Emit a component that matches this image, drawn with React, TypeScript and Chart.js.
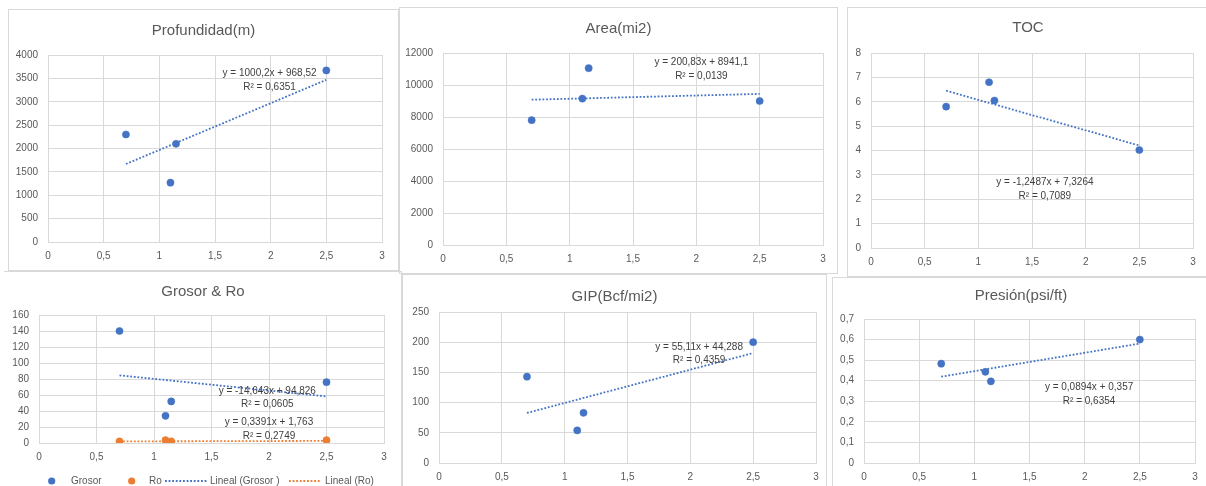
import React, { useEffect, useRef } from "react";
import { Chart, registerables } from "chart.js";
Chart.register(...registerables);

// ---------- data ----------
const xValues = [0.7, 1.1, 1.15, 2.5];
const xTickLabels = ["0", "0,5", "1", "1,5", "2", "2,5", "3"];

const profundidad = [2300, 1270, 2100, 3670];
const area = [7800, 9150, 11050, 9000];
const toc = [5.8, 6.8, 6.05, 4.02];
const grosor = [140, 34, 52, 76];
const ro = [2, 3.5, 2, 3.5];
const gip = [143, 54, 83, 200];
const presion = [0.483, 0.443, 0.397, 0.6];

// trendline [slope, intercept] as printed on the charts
const profundidadTrend = [1000.2, 968.52];
const areaTrend = [200.83, 8941.1];
const tocTrend = [-1.2487, 7.3264];
const grosorTrend = [-14.643, 94.826];
const roTrend = [0.3391, 1.763];
const gipTrend = [55.11, 44.288];
const presionTrend = [0.0894, 0.357];

const profundidadEq = ["y = 1000,2x + 968,52", "R² = 0,6351"];
const areaEq = ["y = 200,83x + 8941,1", "R² = 0,0139"];
const tocEq = ["y = -1,2487x + 7,3264", "R² = 0,7089"];
const grosorEq = ["y = -14,643x + 94,826", "R² = 0,0605"];
const roEq = ["y = 0,3391x + 1,763", "R² = 0,2749"];
const gipEq = ["y = 55,11x + 44,288", "R² = 0,4359"];
const presionEq = ["y = 0,0894x + 0,357", "R² = 0,6354"];

const profundidadYTicks = ["0", "500", "1000", "1500", "2000", "2500", "3000", "3500", "4000"];
const areaYTicks = ["0", "2000", "4000", "6000", "8000", "10000", "12000"];
const tocYTicks = ["0", "1", "2", "3", "4", "5", "6", "7", "8"];
const grosorYTicks = ["0", "20", "40", "60", "80", "100", "120", "140", "160"];
const gipYTicks = ["0", "50", "100", "150", "200", "250"];
const presionYTicks = ["0", "0,1", "0,2", "0,3", "0,4", "0,5", "0,6", "0,7"];

// ---------- style ----------
const BLUE = "#4472C4";
const ORANGE = "#ED7D31";
const GRID = "#d9d9d9";
const TICK = "#595959";
const FONT = "'Liberation Sans', Arial, sans-serif";

type Series = {
  name: string;
  values: number[];
  color: string;
  trend: number[];
  eq: string[];
  eqAt: [number, number];
};

type Panel = {
  title: string;
  box: { x: number; y: number; w: number; h: number };
  borders: string; // t r b l
  plot: { L: number; T: number; R: number; B: number };
  titleY: number;
  yMax: number;
  yStep: number;
  yTicks: string[];
  series: Series[];
  legend?: { y: number; items: { kind: "pt" | "ln"; s1: number; s2?: number; tx: number }[] };
};

const panels: Panel[] = [
  {
    title: "Profundidad(m)",
    box: { x: 8, y: 9, w: 391, h: 262 },
    borders: "1111",
    plot: { L: 48, T: 55, R: 382, B: 242 },
    titleY: 31,
    yMax: 4000,
    yStep: 500,
    yTicks: profundidadYTicks,
    series: [
      { name: "Profundidad", values: profundidad, color: BLUE, trend: profundidadTrend, eq: profundidadEq, eqAt: [1.99, 3609] },
    ],
  },
  {
    title: "Area(mi2)",
    box: { x: 399, y: 7, w: 439, h: 267 },
    borders: "1111",
    plot: { L: 443, T: 53, R: 823, B: 245 },
    titleY: 29,
    yMax: 12000,
    yStep: 2000,
    yTicks: areaYTicks,
    series: [{ name: "Area", values: area, color: BLUE, trend: areaTrend, eq: areaEq, eqAt: [2.04, 11400] }],
  },
  {
    title: "TOC",
    box: { x: 847, y: 7, w: 362, h: 270 },
    borders: "1011",
    plot: { L: 871, T: 53, R: 1193, B: 248 },
    titleY: 28,
    yMax: 8,
    yStep: 1,
    yTicks: tocYTicks,
    series: [{ name: "TOC", values: toc, color: BLUE, trend: tocTrend, eq: tocEq, eqAt: [1.62, 2.68] }],
  },
  {
    title: "Grosor & Ro",
    box: { x: 4, y: 271, w: 398, h: 220 },
    borders: "1100",
    plot: { L: 39, T: 315, R: 384, B: 443 },
    titleY: 292,
    yMax: 160,
    yStep: 20,
    yTicks: grosorYTicks,
    series: [
      { name: "Grosor", values: grosor, color: BLUE, trend: grosorTrend, eq: grosorEq, eqAt: [1.985, 65.2] },
      { name: "Ro", values: ro, color: ORANGE, trend: roTrend, eq: roEq, eqAt: [2.0, 25.6] },
    ],
    legend: {
      y: 481,
      items: [
        { kind: "pt", s1: 51.7, tx: 71 },
        { kind: "pt", s1: 131.7, tx: 149 },
        { kind: "ln", s1: 165, s2: 207, tx: 210 },
        { kind: "ln", s1: 289, s2: 321, tx: 325 },
      ],
    },
  },
  {
    title: "GIP(Bcf/mi2)",
    box: { x: 402, y: 274, w: 425, h: 216 },
    borders: "1101",
    plot: { L: 439, T: 312, R: 816, B: 463 },
    titleY: 297,
    yMax: 250,
    yStep: 50,
    yTicks: gipYTicks,
    series: [{ name: "GIP", values: gip, color: BLUE, trend: gipTrend, eq: gipEq, eqAt: [2.07, 192] }],
  },
  {
    title: "Presión(psi/ft)",
    box: { x: 832, y: 277, w: 378, h: 213 },
    borders: "1001",
    plot: { L: 864, T: 319, R: 1195, B: 463 },
    titleY: 296,
    yMax: 0.7,
    yStep: 0.1,
    yTicks: presionYTicks,
    series: [{ name: "Presión", values: presion, color: BLUE, trend: presionTrend, eq: presionEq, eqAt: [2.04, 0.368] }],
  },
];

const X_H = 24;

function ScatterPanel({ p }: { p: Panel }) {
  const ref = useRef<HTMLCanvasElement | null>(null);
  useEffect(() => {
    const { box, plot } = p;
    const yW = plot.L - box.x;
    const xMin = Math.min(...xValues);
    const xMax = Math.max(...xValues);
    const datasets: any[] = [];
    p.series.forEach((s) => {
      datasets.push({
        label: s.name,
        data: xValues.map((x, i) => ({ x, y: s.values[i] })),
        backgroundColor: s.color,
        borderColor: s.color,
        pointRadius: 3.6,
        pointBorderWidth: 0.5,
        showLine: false,
        order: 1,
      });
    });
    p.series.forEach((s) => {
      datasets.push({
        label: p.series.length > 1 ? `Lineal (${s.name}${s.name === "Grosor" ? " " : ""})` : `Lineal (${s.name})`,
        data: [xMin, xMax].map((x) => ({ x, y: s.trend[0] * x + s.trend[1] })),
        showLine: true,
        borderColor: s.color,
        borderWidth: 1.8,
        borderDash: [1.8, 1.8],
        pointRadius: 0,
        fill: false,
        order: 2,
      });
    });

    const annot = {
      id: "annot",
      afterDraw(chart: any) {
        const ctx = chart.ctx;
        const xs = chart.scales.x;
        const ys = chart.scales.y;
        ctx.save();
        // title
        ctx.fillStyle = TICK;
        ctx.font = `15px ${FONT}`;
        ctx.textAlign = "center";
        ctx.textBaseline = "middle";
        ctx.fillText(p.title, box.w / 2, p.titleY - box.y);
        // equations
        ctx.fillStyle = "#404040";
        ctx.font = `10px ${FONT}`;
        p.series.forEach((s) => {
          const px = xs.getPixelForValue(s.eqAt[0]);
          const py = ys.getPixelForValue(s.eqAt[1]);
          ctx.fillText(s.eq[0], px, py);
          ctx.fillText(s.eq[1], px, py + 13.5);
        });
        // legend
        if (p.legend) {
          const ly = p.legend.y - box.y;
          const ds = chart.data.datasets;
          ctx.font = `10px ${FONT}`;
          ctx.textAlign = "left";
          p.legend.items.forEach((it, i) => {
            const d = ds[i];
            ctx.fillStyle = d.borderColor;
            ctx.strokeStyle = d.borderColor;
            if (it.kind === "pt") {
              ctx.beginPath();
              ctx.arc(it.s1 - box.x, ly, 3.6, 0, Math.PI * 2);
              ctx.fill();
            } else {
              ctx.lineWidth = 1.8;
              ctx.setLineDash([1.8, 1.8]);
              ctx.beginPath();
              ctx.moveTo(it.s1 - box.x, ly);
              ctx.lineTo((it.s2 as number) - box.x, ly);
              ctx.stroke();
              ctx.setLineDash([]);
            }
            ctx.fillStyle = TICK;
            ctx.fillText(d.label, it.tx - box.x, ly);
          });
        }
        ctx.restore();
      },
    };

    const chart = new Chart(ref.current as HTMLCanvasElement, {
      type: "scatter",
      data: { datasets },
      plugins: [annot],
      options: {
        responsive: false,
        animation: false,
        devicePixelRatio: 1,
        layout: {
          autoPadding: false,
          padding: {
            left: 0,
            top: plot.T - box.y,
            right: box.x + box.w - plot.R,
            bottom: box.y + box.h - plot.B - X_H,
          },
        },
        plugins: {
          legend: { display: false },
          tooltip: { enabled: false },
          title: { display: false },
        },
        scales: {
          x: {
            type: "linear",
            min: 0,
            max: 3,
            afterFit: (s: any) => {
              s.height = X_H;
            },
            ticks: {
              stepSize: 0.5,
              autoSkip: false,
              maxRotation: 0,
              padding: 8,
              color: TICK,
              font: { size: 10, family: FONT },
              callback: (_v: any, i: number) => xTickLabels[i],
            },
            grid: { color: GRID, drawTicks: false, lineWidth: 1 },
            border: { color: GRID },
          },
          y: {
            type: "linear",
            min: 0,
            max: p.yMax,
            afterFit: (s: any) => {
              s.width = yW;
            },
            ticks: {
              stepSize: p.yStep,
              autoSkip: false,
              padding: 10,
              color: TICK,
              font: { size: 10, family: FONT },
              callback: (_v: any, i: number) => p.yTicks[i],
            },
            grid: { color: GRID, drawTicks: false, lineWidth: 1 },
            border: { color: GRID },
          },
        },
      } as any,
    });
    return () => chart.destroy();
  }, [p]);

  const b = p.borders;
  const line = `1px solid ${GRID}`;
  return (
    <div style={{ position: "absolute", left: p.box.x, top: p.box.y, width: p.box.w, height: p.box.h }}>
      <div
        style={{
          position: "absolute",
          inset: 0,
          boxSizing: "border-box",
          borderTop: b[0] === "1" ? line : "none",
          borderRight: b[1] === "1" ? line : "none",
          borderBottom: b[2] === "1" ? line : "none",
          borderLeft: b[3] === "1" ? line : "none",
          pointerEvents: "none",
        }}
      />
      <canvas
        ref={ref}
        width={p.box.w}
        height={p.box.h}
        style={{ position: "absolute", left: 0, top: 0, width: p.box.w, height: p.box.h }}
      />
    </div>
  );
}

export default function App() {
  return (
    <div
      style={{
        position: "fixed",
        left: 0,
        top: 0,
        width: 1206,
        height: 486,
        overflow: "hidden",
        background: "#ffffff",
      }}
    >
      {panels.map((p) => (
        <ScatterPanel key={p.title} p={p} />
      ))}
    </div>
  );
}
